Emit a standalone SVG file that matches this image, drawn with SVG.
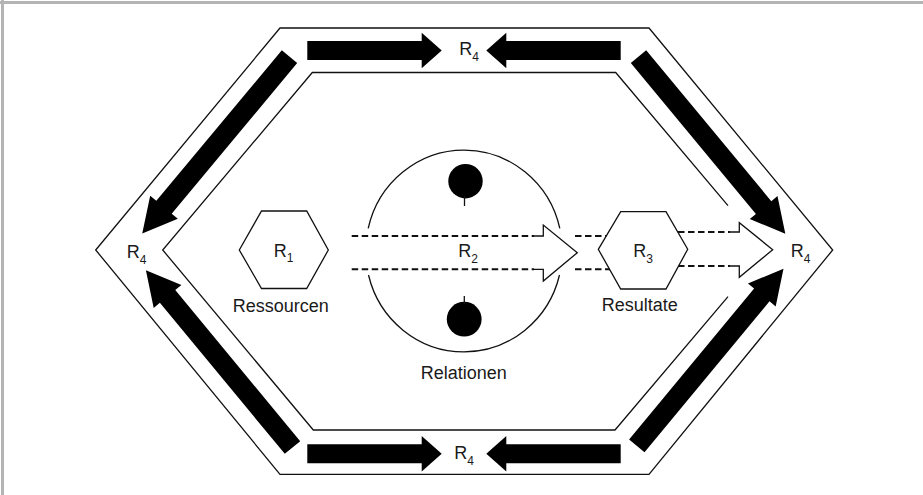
<svg xmlns="http://www.w3.org/2000/svg" width="923" height="495" viewBox="0 0 923 495">
<style>
.ln{fill:none;stroke:#111;stroke-width:1.3;stroke-linejoin:miter}
.hex{fill:#fff;stroke:#111;stroke-width:1.3}
.blk{fill:#000;stroke:none}
.dash{fill:none;stroke:#111;stroke-width:2;stroke-dasharray:6.5 3.5}
.head{fill:#fff;stroke:#111;stroke-width:1.3;stroke-linejoin:miter}
.t{font-family:"Liberation Sans",Arial,sans-serif;font-size:18px;fill:#1a1a1a}
.s{font-size:12px}
</style>
<defs>
<path id="darr" d="M0,-10 H196 V-18 L230,0 L196,18 V10 H0 Z"/>
<path id="harr" d="M0,-9.5 H114.4 V-17.7 L134.4,0 L114.4,17.7 V9.5 H0 Z"/>
</defs>
<rect width="923" height="495" fill="#fff"/>
<g id="frame" stroke="#b4b4b4" stroke-width="3">
<line x1="0" y1="2.5" x2="923" y2="2.5"/>
<line x1="2.5" y1="0" x2="2.5" y2="495"/>
</g>
<g id="outer-ring">
<polygon class="ln" points="95.7,250 280,28 649,28 832.7,250 649,474.3 280,474.3"/>
<polyline class="ln" points="728,205.7 615.7,72.5 312.3,72.5 162.7,250 313.3,430 615,430 728,296.7"/>
</g>
<g id="connectors">
<use href="#darr" class="blk" transform="translate(289.5,56.7) rotate(129.81)"/>
<use href="#darr" class="blk" transform="translate(638.5,56.7) rotate(50.33)"/>
<use href="#darr" class="blk" transform="translate(292.5,447.5) rotate(-129.6)"/>
<use href="#darr" class="blk" transform="translate(636.8,445.9) rotate(-50.37)"/>
<use href="#harr" class="blk" transform="translate(307.3,50.5)"/>
<use href="#harr" class="blk" transform="translate(620.7,50.5) rotate(180)"/>
<use href="#harr" class="blk" transform="translate(307.3,453.7)"/>
<use href="#harr" class="blk" transform="translate(620.7,453.7) rotate(180)"/>
<path class="dash" d="M351.7,236 H534 M351.7,269.3 H534"/>
<path class="head" d="M534,236 H543.3 V225 L577.3,252.7 L543.3,281 V269.3 H534"/>
<path class="dash" d="M575,236 H614 M575,269.3 H614 M668,232 H730 M668,266 H730"/>
<path class="head" d="M730,232 H739.3 V222.7 L772.7,249.7 L739.3,277.3 V266 H730"/>
</g>
<g id="relationen">
<path class="ln" d="M368.2,228.3 A98.3,100.8 0 0 1 559.8,228.3"/>
<path class="ln" d="M368.5,275 A98.3,100.8 0 0 0 559.5,275"/>
<circle cx="465.5" cy="181.2" r="17.2" fill="#000"/>
<line class="ln" x1="464.5" y1="196" x2="464.5" y2="206"/>
<circle cx="464.2" cy="319.2" r="17.4" fill="#000"/>
<line class="ln" x1="464.3" y1="296" x2="464.3" y2="304"/>
<text class="t" x="458.3" y="257.3">R<tspan class="s" dy="5.5">2</tspan></text>
<text class="t" x="420.8" y="379">Relationen</text>
</g>
<g id="ressourcen">
<polygon class="hex" points="239.3,250 261.5,211 306.7,211 328.3,250 306.7,288.5 261.5,288.5"/>
<text class="t" x="273.8" y="256.5">R<tspan class="s" dy="5.5">1</tspan></text>
<text class="t" x="232.7" y="311.7">Ressourcen</text>
</g>
<g id="resultate">
<polygon class="hex" points="598.3,249.3 620.7,211.7 666,211.7 687.7,249.3 666,289 620.7,289"/>
<text class="t" x="633.3" y="257.3">R<tspan class="s" dy="5.5">3</tspan></text>
<text class="t" x="601.7" y="311">Resultate</text>
</g>
<g id="r4-top"><text class="t" x="459.3" y="55">R<tspan class="s" dy="6">4</tspan></text></g>
<g id="r4-bottom"><text class="t" x="454.3" y="458.5">R<tspan class="s" dy="6">4</tspan></text></g>
<g id="r4-left"><text class="t" x="126.7" y="258.3">R<tspan class="s" dy="5.5">4</tspan></text></g>
<g id="r4-right"><text class="t" x="790.7" y="257.3">R<tspan class="s" dy="5.5">4</tspan></text></g>
</svg>
